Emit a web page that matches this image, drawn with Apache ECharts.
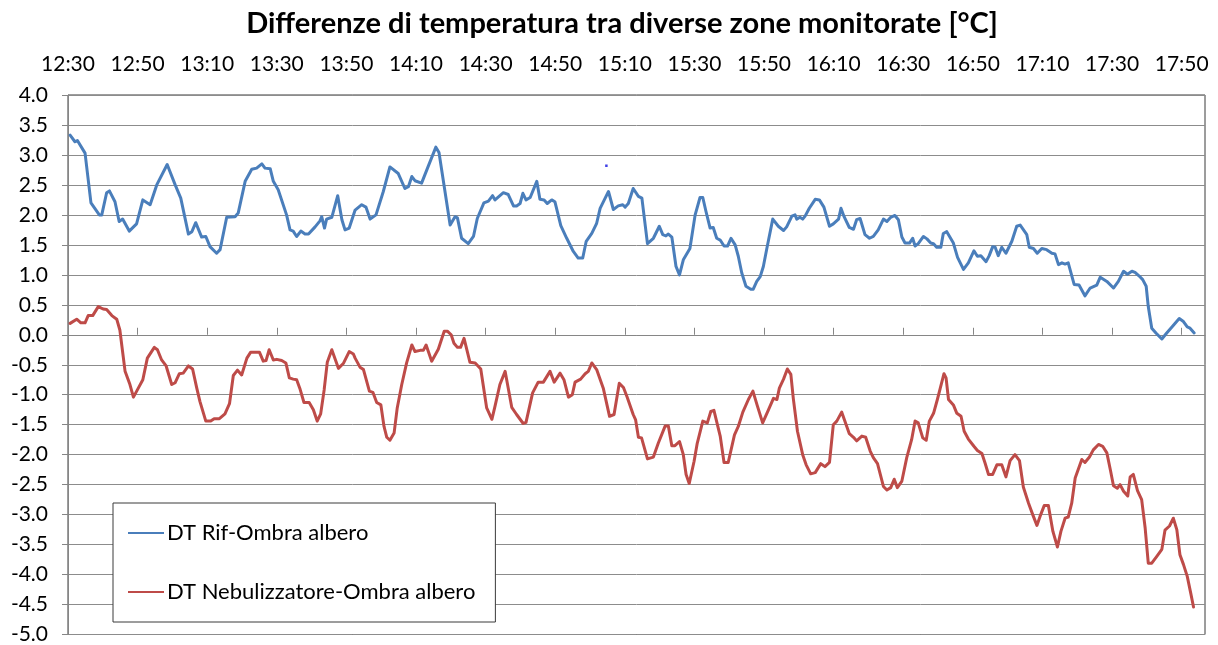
<!DOCTYPE html>
<html>
<head>
<meta charset="utf-8">
<script src="https://cdn.jsdelivr.net/npm/echarts@6/dist/echarts.min.js"></script>
<style>
  html, body { margin: 0; padding: 0; background: #ffffff; }
  #chart { width: 1218px; height: 645px; }
</style>
</head>
<body>
<div id="chart"></div>
<script>
// Time axis: minutes elapsed since 12:30, labelled every 20 minutes
const tickStepMinutes = 20;
const tickLabels = ['12:30', '12:50', '13:10', '13:30', '13:50', '14:10', '14:30', '14:50',
  '15:10', '15:30', '15:50', '16:10', '16:30', '16:50', '17:10', '17:30', '17:50'];
const lastMinute = 326.7;

const seriesNames = ['DT Rif-Ombra albero', 'DT Nebulizzatore-Ombra albero'];

// [minutes since 12:30, temperature difference in °C]
const rifOmbra = [
  [0.6, 3.33], [2.0, 3.22], [2.7, 3.24], [4.9, 3.03], [6.6, 2.2], [9.0, 2.0], [9.7, 2.0],
  [11.1, 2.37], [11.9, 2.4], [13.5, 2.22], [14.7, 1.89], [15.7, 1.93], [17.6, 1.73],
  [19.7, 1.85], [21.5, 2.25], [23.6, 2.17], [25.5, 2.5], [28.5, 2.84], [30.8, 2.5],
  [32.4, 2.28], [34.6, 1.68], [35.6, 1.72], [36.7, 1.87], [38.4, 1.63], [39.6, 1.64],
  [40.8, 1.47], [42.7, 1.36], [43.7, 1.42], [45.6, 1.96], [48.0, 1.97], [48.9, 2.03],
  [50.9, 2.56], [52.8, 2.76], [54.2, 2.78], [55.7, 2.85], [56.6, 2.78], [58.1, 2.77],
  [59.0, 2.56], [60.4, 2.42], [62.8, 2.0], [63.8, 1.75], [64.7, 1.73], [65.7, 1.64],
  [66.9, 1.73], [68.1, 1.68], [69.1, 1.68], [71.0, 1.8], [72.4, 1.9], [72.9, 1.97],
  [73.7, 1.78], [74.3, 1.93], [75.8, 1.96], [77.5, 2.32], [78.7, 1.92], [79.6, 1.75],
  [80.8, 1.78], [82.5, 2.08], [84.4, 2.17], [85.6, 2.13], [86.8, 1.93], [88.5, 2.0],
  [90.6, 2.39], [92.5, 2.8], [94.9, 2.69], [96.8, 2.44], [97.8, 2.47], [98.8, 2.64],
  [99.7, 2.57], [101.6, 2.53], [103.3, 2.78], [105.7, 3.13], [106.6, 3.04], [109.8, 1.83],
  [111.2, 1.97], [111.9, 1.95], [113.1, 1.61], [115.0, 1.52], [116.5, 1.64], [117.6, 1.94],
  [119.5, 2.2], [120.8, 2.23], [122.0, 2.32], [122.7, 2.25], [125.1, 2.37], [126.5, 2.34],
  [128.0, 2.15], [128.9, 2.15], [129.9, 2.19], [130.7, 2.36], [131.6, 2.25], [132.8, 2.29],
  [134.7, 2.56], [135.6, 2.26], [136.8, 2.25], [137.7, 2.19], [139.0, 2.25], [139.9, 2.22],
  [141.6, 1.82], [143.3, 1.61], [145.2, 1.39], [146.6, 1.28], [147.9, 1.28], [148.9, 1.56],
  [150.5, 1.69], [151.9, 1.86], [152.9, 2.11], [154.1, 2.25], [155.3, 2.39], [156.7, 2.09],
  [158.1, 2.15], [159.4, 2.17], [160.1, 2.13], [161.0, 2.19], [162.4, 2.44], [163.9, 2.31],
  [164.9, 2.28], [166.5, 1.52], [168.2, 1.61], [169.9, 1.81], [170.9, 1.67], [171.8, 1.65],
  [172.5, 1.68], [173.5, 1.63], [174.7, 1.14], [175.7, 1.0], [176.8, 1.25], [178.7, 1.44],
  [180.2, 2.0], [181.6, 2.29], [182.4, 2.29], [183.3, 2.06], [184.5, 1.78], [185.4, 1.79],
  [186.4, 1.61], [187.4, 1.58], [188.5, 1.48], [189.5, 1.48], [190.5, 1.61], [191.7, 1.5],
  [192.6, 1.31], [193.6, 1.03], [194.8, 0.81], [196.2, 0.76], [196.9, 0.76], [197.9, 0.89],
  [198.9, 0.97], [199.8, 1.14], [200.8, 1.44], [202.5, 1.93], [204.1, 1.81], [205.6, 1.74],
  [206.5, 1.8], [208.0, 1.98], [208.9, 2.0], [209.4, 1.93], [210.3, 1.96], [211.1, 1.93],
  [211.8, 1.98], [213.0, 2.11], [214.7, 2.26], [215.9, 2.25], [217.2, 2.13], [218.8, 1.81],
  [219.9, 1.85], [221.4, 1.93], [222.1, 2.11], [223.0, 1.97], [224.5, 1.79], [225.7, 1.76],
  [226.6, 1.92], [227.6, 1.94], [229.0, 1.67], [230.3, 1.61], [231.4, 1.64], [232.8, 1.75],
  [234.3, 1.93], [235.3, 1.89], [236.4, 1.96], [237.6, 1.99], [238.6, 1.92], [239.6, 1.63],
  [240.5, 1.53], [241.8, 1.53], [242.7, 1.61], [243.4, 1.48], [244.3, 1.52], [245.8, 1.64],
  [246.8, 1.6], [247.9, 1.53], [248.7, 1.52], [249.6, 1.46], [250.8, 1.46], [251.5, 1.69],
  [252.5, 1.72], [254.4, 1.53], [255.6, 1.29], [257.3, 1.09], [258.7, 1.2], [260.3, 1.4],
  [261.3, 1.31], [262.3, 1.32], [263.8, 1.22], [264.7, 1.32], [265.7, 1.47], [266.4, 1.46],
  [267.3, 1.32], [268.3, 1.46], [269.5, 1.36], [271.2, 1.56], [272.6, 1.81], [273.6, 1.83],
  [275.5, 1.67], [276.2, 1.46], [277.4, 1.44], [278.5, 1.36], [279.8, 1.44], [281.2, 1.42],
  [282.7, 1.36], [283.6, 1.35], [284.6, 1.17], [285.6, 1.2], [286.5, 1.18], [287.4, 1.2],
  [289.1, 0.84], [290.5, 0.83], [292.2, 0.65], [293.7, 0.78], [295.6, 0.83], [296.6, 0.96],
  [298.5, 0.89], [300.4, 0.78], [301.8, 0.89], [303.3, 1.06], [304.4, 1.01], [305.7, 1.06],
  [306.6, 1.04], [307.8, 0.98], [308.8, 0.92], [309.8, 0.81], [310.4, 0.47], [311.4, 0.11],
  [312.6, 0.03], [314.3, -0.07], [315.7, 0.03], [317.2, 0.13], [319.3, 0.27], [320.5, 0.22],
  [321.6, 0.13], [322.4, 0.11], [323.6, 0.03]
];

const nebulizzatoreOmbra = [
  [0.6, 0.19], [2.5, 0.26], [3.7, 0.2], [4.9, 0.2], [5.8, 0.32], [7.1, 0.32], [8.7, 0.47],
  [10.1, 0.43], [11.1, 0.42], [12.6, 0.32], [14.0, 0.26], [14.9, 0.08], [16.4, -0.61],
  [17.8, -0.83], [18.8, -1.04], [20.2, -0.89], [21.5, -0.75], [22.8, -0.39], [24.8, -0.21],
  [25.7, -0.25], [26.9, -0.42], [28.2, -0.52], [29.8, -0.83], [30.8, -0.8], [32.0, -0.65],
  [33.1, -0.64], [34.6, -0.52], [35.8, -0.57], [37.0, -0.89], [37.9, -1.11], [39.6, -1.44],
  [41.0, -1.44], [42.0, -1.4], [43.5, -1.4], [45.1, -1.32], [46.4, -1.15], [47.5, -0.68],
  [48.7, -0.59], [49.9, -0.67], [51.4, -0.39], [52.5, -0.29], [55.0, -0.29], [56.1, -0.44],
  [56.9, -0.43], [57.8, -0.25], [59.0, -0.42], [60.0, -0.41], [61.4, -0.43], [62.6, -0.47],
  [63.6, -0.72], [64.7, -0.74], [65.7, -0.75], [66.7, -0.91], [67.8, -1.13], [69.3, -1.13],
  [70.5, -1.25], [71.6, -1.44], [72.6, -1.32], [73.6, -0.92], [74.5, -0.46], [75.8, -0.25],
  [77.7, -0.56], [79.1, -0.48], [80.8, -0.28], [82.0, -0.32], [82.5, -0.39], [83.9, -0.54],
  [84.9, -0.58], [86.6, -0.94], [87.6, -0.96], [88.7, -1.13], [89.9, -1.17], [90.8, -1.53],
  [91.6, -1.71], [92.5, -1.76], [93.7, -1.64], [94.6, -1.22], [95.9, -0.83], [97.3, -0.47],
  [98.8, -0.17], [99.7, -0.28], [101.2, -0.26], [102.1, -0.26], [102.9, -0.17], [104.5, -0.44],
  [106.4, -0.24], [108.1, 0.06], [109.0, 0.06], [110.1, 0.0], [110.9, -0.14], [111.9, -0.21],
  [112.8, -0.21], [113.8, -0.06], [115.5, -0.46], [117.0, -0.47], [118.6, -0.57], [120.3, -1.22],
  [121.8, -1.41], [122.7, -1.19], [124.1, -0.83], [125.6, -0.61], [127.5, -1.21], [128.9, -1.33],
  [130.8, -1.48], [131.6, -1.46], [133.5, -0.97], [135.1, -0.79], [136.6, -0.79], [138.5, -0.61],
  [139.7, -0.79], [141.4, -0.64], [142.5, -0.75], [143.8, -1.04], [144.9, -1.0], [145.7, -0.79],
  [147.3, -0.74], [148.6, -0.65], [149.5, -0.61], [150.5, -0.47], [151.9, -0.58], [153.8, -0.89],
  [155.6, -1.36], [156.9, -1.33], [158.4, -0.81], [159.6, -0.88], [160.6, -1.03], [162.4, -1.33],
  [163.1, -1.42], [163.9, -1.71], [164.8, -1.72], [166.5, -2.07], [168.2, -2.04], [169.6, -1.81],
  [171.6, -1.52], [172.5, -1.52], [173.5, -1.85], [174.4, -1.85], [175.7, -1.78], [176.8, -2.0],
  [177.6, -2.33], [178.5, -2.48], [179.9, -2.11], [180.8, -1.81], [182.4, -1.44], [183.7, -1.47],
  [184.7, -1.28], [185.6, -1.26], [187.4, -1.69], [188.5, -2.13], [189.7, -2.13], [191.5, -1.67],
  [192.6, -1.53], [193.9, -1.29], [195.5, -1.08], [196.8, -0.94], [198.1, -1.19], [199.6, -1.47],
  [201.2, -1.26], [202.7, -1.06], [203.7, -1.08], [204.4, -0.89], [205.6, -0.74], [206.7, -0.57],
  [207.7, -0.66], [208.4, -1.06], [209.6, -1.61], [211.1, -2.0], [212.1, -2.17], [213.4, -2.32],
  [214.7, -2.3], [216.3, -2.15], [217.5, -2.2], [218.8, -2.13], [219.9, -1.5], [220.9, -1.44],
  [222.3, -1.29], [224.5, -1.65], [225.7, -1.71], [226.6, -1.77], [228.1, -1.69], [229.2, -1.71],
  [230.5, -1.94], [231.4, -2.05], [232.6, -2.15], [234.3, -2.53], [235.3, -2.59], [236.4, -2.55],
  [237.4, -2.41], [238.3, -2.55], [239.6, -2.44], [241.0, -2.05], [242.4, -1.75], [243.4, -1.44],
  [244.3, -1.47], [245.6, -1.72], [246.6, -1.76], [247.5, -1.44], [248.7, -1.31], [249.8, -1.08],
  [250.6, -0.9], [251.7, -0.65], [252.3, -0.72], [253.0, -1.08], [254.4, -1.17], [255.4, -1.31],
  [256.6, -1.36], [257.5, -1.61], [258.7, -1.74], [260.3, -1.86], [261.3, -1.93], [262.6, -1.98],
  [263.5, -2.14], [264.5, -2.33], [265.7, -2.33], [266.9, -2.17], [268.3, -2.17], [269.5, -2.37],
  [270.7, -2.1], [272.1, -2.0], [273.4, -2.1], [274.5, -2.54], [276.0, -2.81], [277.2, -3.0],
  [278.4, -3.18], [279.3, -3.03], [280.5, -2.85], [281.7, -2.85], [283.0, -3.28], [284.3, -3.54],
  [285.3, -3.28], [286.5, -3.06], [287.4, -3.04], [288.4, -2.81], [289.4, -2.39], [291.3, -2.08],
  [292.2, -2.13], [293.5, -2.04], [294.6, -1.92], [296.1, -1.83], [297.3, -1.86], [298.5, -1.97],
  [299.6, -2.28], [300.4, -2.52], [301.5, -2.56], [302.3, -2.5], [303.3, -2.61], [304.5, -2.69],
  [305.2, -2.37], [306.1, -2.33], [307.3, -2.6], [308.5, -2.75], [309.5, -3.22], [310.4, -3.81],
  [311.4, -3.81], [312.8, -3.7], [314.3, -3.58], [315.2, -3.26], [316.5, -3.19], [317.6, -3.06],
  [318.6, -3.25], [319.5, -3.67], [320.5, -3.83], [321.6, -4.03], [322.6, -4.31], [323.4, -4.54]
];

// single isolated reading plotted as a dot
const isolatedReading = [[154.7, 2.82]];

const fontFamily = 'Lato, "Noto Sans", sans-serif';
const tickValues = tickLabels.map((_, i) => i * tickStepMinutes);

const chart = echarts.init(document.getElementById('chart'), null, { renderer: 'canvas' });

chart.setOption({
  animation: false,
  backgroundColor: '#ffffff',
  title: {
    text: 'Differenze di temperatura tra diverse zone monitorate [°C]',
    left: 617,
    top: 4,
    textAlign: 'center',
    textStyle: { fontFamily, fontSize: 29, fontWeight: 'bold', color: '#000000' }
  },
  grid: {
    left: 68, right: 13, top: 95, bottom: 10,
    show: true, borderColor: '#3a3a3a', borderWidth: 1, backgroundColor: 'transparent'
  },
  legend: {
    data: seriesNames,
    orient: 'vertical',
    left: 113,
    top: 503,
    padding: [19, 20, 19, 15],
    itemGap: 37,
    itemWidth: 36,
    itemHeight: 22,
    backgroundColor: '#ffffff',
    borderColor: '#3a3a3a',
    borderWidth: 1,
    borderRadius: 0,
    icon: 'path://M0,10 L36,10 L36,12 L0,12 Z',
    textStyle: { fontFamily, fontSize: 22, lineHeight: 22, color: '#000000', padding: [0, 0, 0, -2] },
    itemStyle: { borderWidth: 0 }
  },
  xAxis: {
    type: 'value',
    position: 'top',
    min: 0,
    max: lastMinute,
    interval: tickStepMinutes,
    axisLine: { show: true, lineStyle: { color: '#868686', width: 1 } },
    axisTick: {
      show: true, inside: false, length: 7,
      lineStyle: { color: '#868686' },
      customValues: tickValues
    },
    axisLabel: {
      show: true,
      margin: 20,
      fontFamily, fontSize: 21, color: '#000000',
      customValues: tickValues,
      formatter: v => {
        const i = Math.round(v / tickStepMinutes);
        return Math.abs(v - i * tickStepMinutes) < 1e-6 && tickLabels[i] ? tickLabels[i] : '';
      }
    },
    splitLine: { show: false }
  },
  yAxis: {
    type: 'value',
    min: -5,
    max: 4,
    interval: 0.5,
    axisLine: { show: true, onZero: false, lineStyle: { color: '#868686', width: 1 } },
    axisTick: { show: true, inside: false, length: 6, lineStyle: { color: '#868686' } },
    axisLabel: {
      margin: 20,
      fontFamily, fontSize: 21, color: '#000000',
      formatter: v => v.toFixed(1)
    },
    splitLine: { show: true, lineStyle: { color: '#8c8c8c', width: 1 } }
  },
  series: [
    {
      name: seriesNames[0],
      type: 'line',
      data: rifOmbra,
      symbol: 'none',
      color: '#4A7EBB',
      lineStyle: { color: '#4A7EBB', width: 3, join: 'round', cap: 'round' },
      z: 3
    },
    {
      name: seriesNames[1],
      type: 'line',
      data: nebulizzatoreOmbra,
      symbol: 'none',
      color: '#BE4B48',
      lineStyle: { color: '#BE4B48', width: 3, join: 'round', cap: 'round' },
      z: 3
    },
    {
      name: 'punto',
      type: 'scatter',
      data: isolatedReading,
      symbol: 'rect',
      symbolSize: 2.5,
      itemStyle: { color: '#1010e0' },
      silent: true,
      z: 4
    }
  ]
});
</script>
</body>
</html>
